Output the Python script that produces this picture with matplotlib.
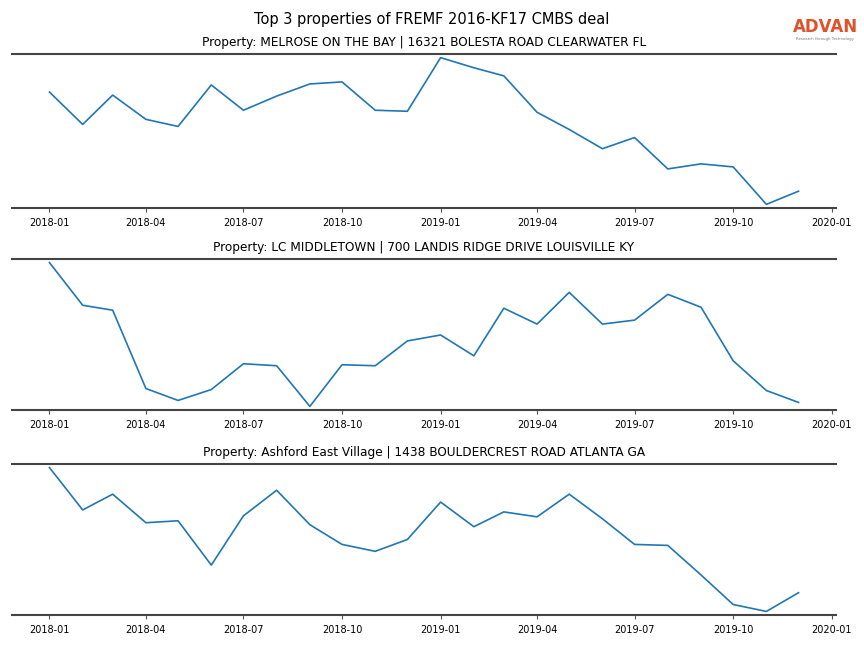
import matplotlib
matplotlib.use("Agg")
import matplotlib.pyplot as plt
import matplotlib.dates as mdates
import pandas as pd

dates = pd.date_range("2018-01-01", "2019-12-01", freq="MS")

titles = [
    "Property: MELROSE ON THE BAY | 16321 BOLESTA ROAD CLEARWATER FL",
    "Property: LC MIDDLETOWN | 700 LANDIS RIDGE DRIVE LOUISVILLE KY",
    "Property: Ashford East Village | 1438 BOULDERCREST ROAD ATLANTA GA",
]

melrose = [115, 83, 112, 88, 81, 122, 97, 111, 123, 125, 97, 96,
           149, 139, 131, 95, 78, 59, 70, 39, 44, 41, 4, 17]
middletown = [147, 104, 99, 20, 8, 19, 45, 43, 2, 44, 43, 68,
              74, 53, 101, 85, 117, 85, 89, 115, 102, 48, 18, 6]
ashford = [148, 105, 121, 92, 94, 49, 99, 125, 90, 70, 63, 75,
           113, 88, 103, 98, 121, 96, 70, 69, 39, 9, 2, 21]

series = [melrose, middletown, ashford]

fig = plt.figure(figsize=(8.64, 6.48), dpi=100)
positions = [(0.0139, 0.679, 0.9537, 0.2377),
             (0.0139, 0.3673, 0.9537, 0.2330),
             (0.0139, 0.0509, 0.9537, 0.2331)]

for pos, vals, title in zip(positions, series, titles):
    ax = fig.add_axes(pos)
    ax.plot(dates, vals, color="#1f77b4", linewidth=1.2)
    ax.margins(y=0.025)
    ax.set_title(title, fontsize=8.7, pad=6)
    for s in ["left", "right"]:
        ax.spines[s].set_visible(False)
    for s in ["top", "bottom"]:
        ax.spines[s].set_color("#444444")
        ax.spines[s].set_linewidth(1.5)
    ax.set_yticks([])
    ax.xaxis.set_major_locator(mdates.MonthLocator(bymonth=[1, 4, 7, 10]))
    ax.xaxis.set_major_formatter(mdates.DateFormatter("%Y-%m"))
    ax.tick_params(axis="x", labelsize=7, length=3, width=0.8, color="#555555", pad=4)

fig.suptitle("Top 3 properties of FREMF 2016-KF17 CMBS deal", fontsize=10.5, y=0.982)

fig.text(0.955, 0.958, "ADVAN", color="#e0522a", fontsize=12, fontweight="semibold",
         ha="center", va="center")
fig.text(0.955, 0.940, "Research through Technology", color="#777777", fontsize=2.8,
         ha="center", va="center")

fig.savefig("out.png", dpi=100)
